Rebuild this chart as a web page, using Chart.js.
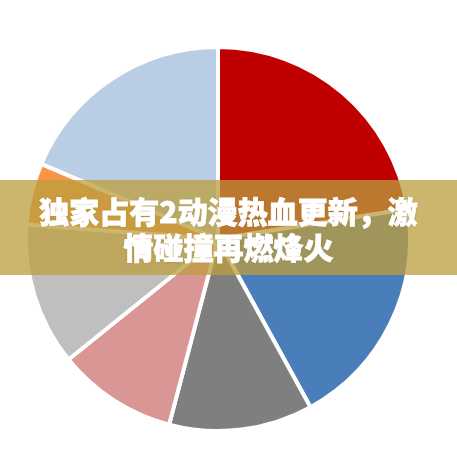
<!DOCTYPE html>
<html>
<head>
<meta charset="utf-8">
<script src="https://cdn.jsdelivr.net/npm/chart.js@4"></script>
<style>
  html, body { margin: 0; padding: 0; background: #fff; }
  #wrap { position: relative; width: 457px; height: 457px; }
  #banner {
    position: absolute; left: 0; top: 180px; width: 457px; height: 95px;
    background: rgba(188, 158, 62, 0.76);
    color: #fff; font-family: "Noto Sans CJK SC", sans-serif; font-weight: 900;
    font-size: 30px; line-height: 36px; text-align: center;
    box-sizing: border-box; padding-top: 12px;
    -webkit-text-stroke: 0.8px #fff;
    text-shadow: 0 0 2px rgba(120, 100, 40, 0.6);
  }
</style>
</head>
<body>
<div id="wrap">
  <canvas id="chart" width="457" height="457"></canvas>
  <div id="banner">独家占有2动漫热血更新，激<br>情碰撞再燃烽火</div>
</div>
<script>
  // slices clockwise from 12 o'clock
  const categories = ["1", "2", "3", "4", "5", "6", "7"];
  const values = [22.5, 19.5, 12.1, 10.1, 12.0, 5.2, 18.6];
  const colors = ["#c00000", "#4a7ebb", "#7f7f7f", "#d99694", "#bfbfbf", "#f79646", "#b9cde5"];

  document.addEventListener("DOMContentLoaded", function() {
    const ctx = document.getElementById("chart").getContext("2d");
    new Chart(ctx, {
      type: "pie",
      data: {
        labels: categories,
        datasets: [{
          data: values,
          backgroundColor: colors,
          borderColor: "#ffffff",
          borderWidth: 4
        }]
      },
      options: {
        responsive: false,
        animation: false,
        layout: { padding: { left: 24, right: 45, top: 45, bottom: 24 } },
        plugins: {
          legend: { display: false },
          tooltip: { enabled: false }
        }
      }
    });
  });
</script>
</body>
</html>
